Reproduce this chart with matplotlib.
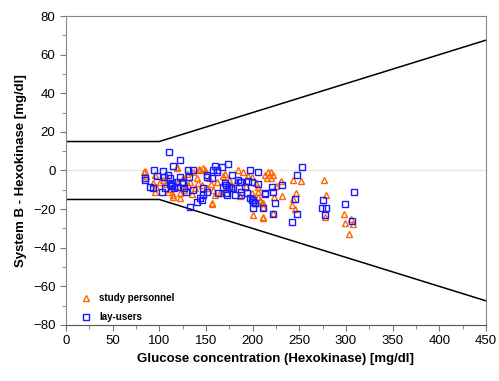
import numpy as np
import matplotlib
matplotlib.use('Agg')
import matplotlib.pyplot as plt
from matplotlib.ticker import MultipleLocator

plt.rcParams['font.family'] = ['Liberation Sans', 'DejaVu Sans']

# study personnel (triangles): glucose, difference
sp_x = [83.6, 84.6, 86, 95.4, 93.6, 97, 100.7, 95.4, 104, 107, 109.6, 115, 115, 118.6, 118.6,
        122, 122, 120, 125, 128, 130, 133, 136.4, 138, 141.8, 142.8, 143.6, 145.4, 147, 149,
        150.7, 153, 155, 156, 156, 157.8, 159.6, 162, 165, 166.8, 168, 170, 172, 175, 179,
        182, 184.6, 186, 190, 193, 195, 199, 199, 200.7, 204, 206, 206, 206, 208, 209.7,
        211.5, 211.5, 211.5, 211.5, 213, 215, 216.8, 220, 222, 220, 222, 223, 225, 230, 232,
        243.6, 247, 243.6, 242.5, 245, 251.5, 276.5, 278.6, 278, 298.3, 299, 307, 303.6, 305,
        108, 112, 117, 126, 131, 135, 140]
sp_y = [-0.6, -0.3, -3, -2.3, -6.6, -8.4, -5.8, -11, -5, -7, -11, -12.7, -13.6, 1.5, 2,
        -14.4, -11.8, -6, -4, -8, -2, -6, -0.6, -9, -6.6, 0.8, 0.3, -7.5, 1.1, 0.3,
        -9.2, -4, -7, -17, -17.5, -10.1, -12.7, -6, -11.8, -11.8, -3, -1.8, -9, -5, -9.2,
        -6, 0.3, -13, -0.6, -8, -3, -3.2, -11.8, -23, -6.6, -8.4, -11, -13.6, -15.3, -17,
        -18.7, -23.9, -24.8, -17, -2.3, -4, -0.6, -0.6, -2.3, -4, -22.2, -13.6, -8, -5.3, -13,
        -4.9, -11.8, -14.9, -17.9, -20, -5.3, -4.9, -12.7, -24, -22.5, -27.4, -27.9, -32.9, -25,
        -4, -9.5, -8, -10, -7.5, -12, -4]

# lay-users (squares)
lu_x = [84.6, 84.6, 90, 93.6, 94.3, 98, 102.5, 104, 105, 106, 109.6, 110.7, 111.4, 113, 113.5,
        112, 115, 116, 118, 122, 122, 124, 125.7, 129, 131, 132, 133, 136.4, 136.4, 140,
        143.6, 145.4, 147, 147, 150.7, 150.7, 150.7, 156, 157.8, 159.6, 161.5, 161.5, 163, 166.8, 168.5,
        170, 172, 172, 173, 174, 174.6, 176.8, 177.5, 179, 181, 184.6, 186.4, 187.5, 188, 188,
        191.8, 193.6, 195.4, 197, 197, 199, 199, 200.7, 200.7, 200.7, 202.5, 202.5, 206, 206, 211.5,
        213, 213, 220.4, 221.4, 224, 222, 231, 242.5, 245.4, 247.9, 248, 253, 275.7, 274, 279,
        277.6, 298.6, 306, 308.6, 114, 119, 127]
lu_y = [-4, -4.9, -8.4, -9.2, 0.3, -3, -11, -0.3, -3.2, -9.2, -2.3, 9.7, -4, -7.5, -8,
        -7, 2.5, -9, -6, 5.2, -3.2, -5.8, -6.6, -11, 0.3, -3.2, -18.7, 0.3, -10.1, -16.2,
        -14.4, -15.3, -12.7, -9.2, -11, -2.3, -3.2, -4, 0.3, 2.3, 0, -0.6, -11.5, 2, -8.4,
        -6.6, -7.5, -11.8, -12.7, 3.4, -8.4, -9.2, -2.3, -8.9, -12.7, -4.9, -5.8, -5.8, -11, -12.7,
        -8.7, -11.5, -5.3, 0.3, -14.4, -15.3, -5.8, -15.3, -16.2, -19.6, -16.7, -17, -1, -7.1, -19.6,
        -11.8, -12.3, -8.7, -11.3, -16.7, -22.5, -7.5, -26.8, -14.9, -2.3, -22.7, 1.6, -15.3, -19.3, -19.3,
        -23, -17.2, -26.2, -11, -6.5, -8.5, -9]

# acceptance limits: +/-15 mg/dl below 100, +/-15 % above
lim_x = [0, 100, 450]
lim_y = [15, 15, 67.5]

fig = plt.figure(figsize=(4.99, 3.81), dpi=100)
ax = fig.add_axes([0.132, 0.147, 0.842, 0.811])

ax.axhline(0, color='#e6e6e6', lw=0.8, zorder=0)
ax.plot(lim_x, lim_y, color='black', lw=1.1)
ax.plot(lim_x, [-v for v in lim_y], color='black', lw=1.1)

ax.plot(sp_x, sp_y, linestyle='none', marker='^', markersize=4.5, markerfacecolor='none',
        markeredgecolor='#ff6600', markeredgewidth=1.0, label='study personnel')
ax.plot(lu_x, lu_y, linestyle='none', marker='s', markersize=4.5, markerfacecolor='none',
        markeredgecolor='#1a1aff', markeredgewidth=1.0, label='lay-users')

ax.set_xlim(0, 450)
ax.set_ylim(-80, 80)
ax.xaxis.set_major_locator(MultipleLocator(50))
ax.xaxis.set_minor_locator(MultipleLocator(25))
ax.yaxis.set_major_locator(MultipleLocator(20))
ax.yaxis.set_minor_locator(MultipleLocator(10))
ax.tick_params(which='both', direction='out', color='#777777', labelsize=9.5)
ax.tick_params(which='major', length=4)
ax.tick_params(which='minor', length=3)
for s in ax.spines.values():
    s.set_color('#888888')
ax.spines['bottom'].set_color('#555555')

ax.set_xlabel('Glucose concentration (Hexokinase) [mg/dl]', fontsize=9.5, fontweight='bold')
ax.set_ylabel('System B - Hexokinase [mg/dl]', fontsize=9.5, fontweight='bold')

leg = ax.legend(loc='lower left', frameon=False, prop={'weight': 'bold', 'size': 7},
                handletextpad=0.3, labelspacing=0.95, bbox_to_anchor=(0.005, -0.02))

fig.savefig('out.png', dpi=100)
